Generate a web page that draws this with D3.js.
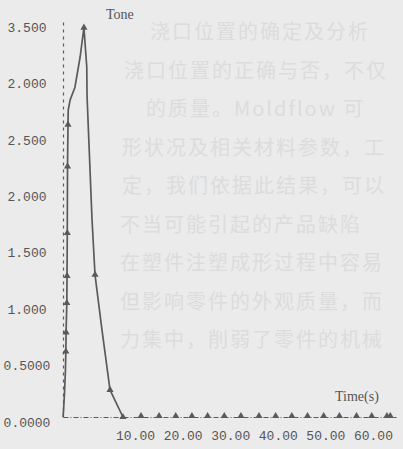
<!DOCTYPE html>
<html>
<head>
<meta charset="utf-8">
<script src="https://cdn.jsdelivr.net/npm/d3@7"></script>
<style>
  body { margin: 0; background: #ebebeb; }
  svg { display: block; background: #ebebeb; }
  .ghost { font-family: "Noto Sans CJK SC", sans-serif; font-size: 20px; fill: #dcdcdc; letter-spacing: 2px; }
  .tick text { font-family: "Liberation Mono", monospace; font-size: 13px; fill: #555; }
  .axisTitle { font-family: "Liberation Serif", serif; font-size: 14px; fill: #555; }
</style>
</head>
<body>
<div id="chart"></div>
<script>
// clamp force curve (time in s, force in Tone)
const curveTime = [0, 0.1, 0.3, 0.5, 0.6, 0.65, 0.8, 0.85, 0.9, 0.95, 1.05, 1.1, 1.5, 2.5, 3.6, 4.4, 5.0, 5.05, 6.1, 6.73, 8.2, 9.88, 12.6];
const curveTone = [0, 0.05, 0.2, 0.4, 0.58, 0.75, 1.01, 1.25, 1.63, 2.22, 2.59, 2.72, 2.81, 2.92, 3.19, 3.45, 3.10, 2.85, 1.75, 1.26, 0.77, 0.24, 0];

// points that carry a triangle marker on the curve
const markTime = [0.6, 0.65, 0.8, 0.85, 0.9, 0.95, 1.05, 4.4, 6.73, 9.88, 12.6];
const markTone = [0.58, 0.75, 1.01, 1.25, 1.63, 2.22, 2.59, 3.45, 1.26, 0.24, 0];

// markers lying on the zero line after the force drops
const flatTime = [16.4, 20.2, 23.7, 27.1, 30.4, 33.9, 37.4, 41.2, 44.7, 48.1, 51.4, 54.8, 58.1, 61.7, 64.9, 68.1, 68.8];

// tick labels, as printed
const yTicks = [0, 0.5, 1, 1.5, 2, 2.5, 3, 3.5];
const yTickLabels = ["0.0000", "0.5000", "1.000", "1.500", "2.000", "2.500", "2.000", "3.500"];
const xTicks = [10, 20, 30, 40, 50, 60];

// text showing through from the back of the page
const ghostLines = [
  "浇口位置的确定及分析",
  "浇口位置的正确与否，不仅",
  "的质量。Moldflow 可",
  "形状况及相关材料参数，工",
  "定，我们依据此结果，可以",
  "不当可能引起的产品缺陷",
  "在塑件注塑成形过程中容易",
  "但影响零件的外观质量，而",
  "力集中，削弱了零件的机械"
];
const ghostStart = [150, 124, 146, 122, 122, 120, 120, 120, 120];

const width = 403, height = 449;
const ink = "#5a5a5a";

const svg = d3.select("#chart").append("svg")
  .attr("width", width)
  .attr("height", height);

//----------------------------------------
// Ghost text behind the chart
//----------------------------------------
const ghostY = d3.scalePoint().domain(d3.range(ghostLines.length)).range([39, 347]);
svg.append("g").selectAll("text")
  .data(ghostLines)
  .enter()
  .append("text")
  .attr("class", "ghost")
  .attr("x", (d, i) => ghostStart[i])
  .attr("y", (d, i) => ghostY(i))
  .text(d => d);

//----------------------------------------
// Scales
//----------------------------------------
const x = d3.scaleLinear().domain([0, 70]).range([63, 396]);
const y = d3.scaleLinear().domain([0, 3.5]).range([417, 22]);

//----------------------------------------
// Axes
//----------------------------------------
const yAxis = svg.append("g")
  .attr("transform", `translate(${x(0)},0)`)
  .call(d3.axisLeft(y).tickValues(yTicks).tickFormat((d, i) => yTickLabels[i]).tickSize(0).tickSizeOuter(0));
yAxis.select(".domain")
  .attr("stroke", ink)
  .attr("stroke-width", 1.2)
  .attr("stroke-dasharray", "3,4");
yAxis.selectAll(".tick text")
  .attr("x", -36)
  .attr("y", 5)
  .style("text-anchor", "middle");

const xAxis = svg.append("g")
  .attr("transform", `translate(0,${y(0)})`)
  .call(d3.axisBottom(x).tickValues(xTicks).tickFormat(d3.format(".2f")).tickSize(0).tickSizeOuter(0).tickPadding(14));
xAxis.select(".domain")
  .attr("stroke", ink)
  .attr("stroke-width", 1.2)
  .attr("stroke-dasharray", "5,2,1,2");
xAxis.selectAll(".tick text")
  .attr("x", 5)
  .style("text-anchor", "start");

svg.append("text")
  .attr("class", "axisTitle")
  .attr("x", 106)
  .attr("y", 19)
  .text("Tone");

svg.append("text")
  .attr("class", "axisTitle")
  .attr("x", 335)
  .attr("y", 401)
  .text("Time(s)");

//----------------------------------------
// Curve
//----------------------------------------
const line = d3.line()
  .x(i => x(curveTime[i]))
  .y(i => y(curveTone[i]));

svg.append("path")
  .attr("d", line(d3.range(curveTime.length)))
  .attr("fill", "none")
  .attr("stroke", ink)
  .attr("stroke-width", 1.7)
  .attr("stroke-linejoin", "round");

//----------------------------------------
// Triangle markers
//----------------------------------------
const tri = d3.symbol().type(d3.symbolTriangle).size(22);

svg.append("g").selectAll("path")
  .data(d3.range(markTime.length))
  .enter()
  .append("path")
  .attr("d", tri)
  .attr("transform", i => `translate(${x(markTime[i])},${y(markTone[i])})`)
  .attr("fill", ink);

svg.append("g").selectAll("path")
  .data(flatTime)
  .enter()
  .append("path")
  .attr("d", tri)
  .attr("transform", d => `translate(${x(d)},${y(0) - 1})`)
  .attr("fill", ink);
</script>
</body>
</html>
